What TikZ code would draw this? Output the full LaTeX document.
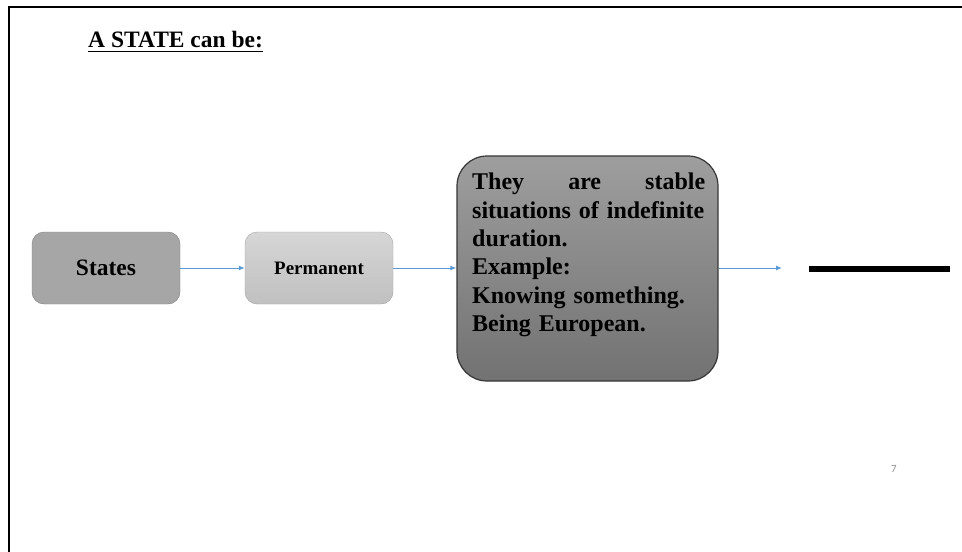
\documentclass[tikz,border=0pt]{standalone}
\usepackage{fontspec}
\setmainfont{Liberation Serif}
\newfontfamily\numfont{Carlito}
\usetikzlibrary{arrows.meta}
\definecolor{flowblue}{HTML}{5B9BD5}
\definecolor{statefill}{HTML}{A6A6A6}
\definecolor{stateedge}{HTML}{7F7F7F}
\definecolor{permtop}{HTML}{D6D6D6}
\definecolor{permbot}{HTML}{C0C0C0}
\definecolor{permedge}{HTML}{A3A3A3}
\definecolor{bigtop}{HTML}{9E9E9E}
\definecolor{bigbot}{HTML}{727272}
\definecolor{bigedge}{HTML}{363636}
\definecolor{pagenum}{HTML}{8C8C8C}
\tikzset{
  flow/.style={draw=flowblue, line width=1pt, -{Latex[length=6pt,width=5pt]}},
  smallbox/.style={rounded corners=12pt, minimum width=148pt, minimum height=72pt,
    inner sep=0pt, font=\bfseries},
  bigbox/.style={rounded corners=30pt, minimum width=261pt, minimum height=225pt,
    inner sep=0pt, draw=bigedge, line width=1.2pt, top color=bigtop, bottom color=bigbot},
}
\begin{document}
\begin{tikzpicture}[x=1pt,y=-1pt]
\useasboundingbox (0,0) rectangle (962,552);
% page frame
\draw[line width=2pt] (9,552) -- (9,7) -- (962,7);
% heading with a heavy underline
\node[anchor=base west, inner sep=0pt, font=\bfseries\fontsize{23.5}{27}\selectfont]
  (title) at (88,47) {A STATE can be:};
\draw[line width=1.8pt] ([yshift=-4.5pt]title.base west) -- ([yshift=-4.5pt]title.base east);
% boxes
\node[smallbox, draw=stateedge, fill=statefill, font=\bfseries\fontsize{23.5}{28}\selectfont]
  (states) at (106,268) {States};
\node[smallbox, draw=permedge, top color=permtop, bottom color=permbot,
  font=\bfseries\fontsize{19}{23}\selectfont]
  (perm) at (319,268) {Permanent};
\node[bigbox] (desc) at (587.5,268.5) {};
% description, first line spread to the full measure
\node[anchor=north west, inner sep=0pt, text width=245pt, align=left,
  font=\bfseries\fontsize{24}{28.3}\selectfont]
  (desctext) at (472,173)
  {\hbox to 233pt{They\hfill are\hfill stable}\\
   situations of indefinite\\
   duration.\\
   Example:\\
   Knowing something.\\
   Being European.};
% trailing bar
\coordinate (barL) at (809,269);
\coordinate (barR) at (950,269);
\coordinate (tipend) at (782,268);
\draw[line width=6pt] (barL) -- (barR);
% connectors
\draw[flow] (states.east) -- (perm.west);
\draw[flow] (perm.east) -- (desc.west |- perm.east);
\draw[flow] (desc.east |- perm.east) -- (tipend);
% page number
\node[font=\numfont\fontsize{11}{12}\selectfont, text=pagenum] (pg) at (894,469) {7};
\end{tikzpicture}
\end{document}
